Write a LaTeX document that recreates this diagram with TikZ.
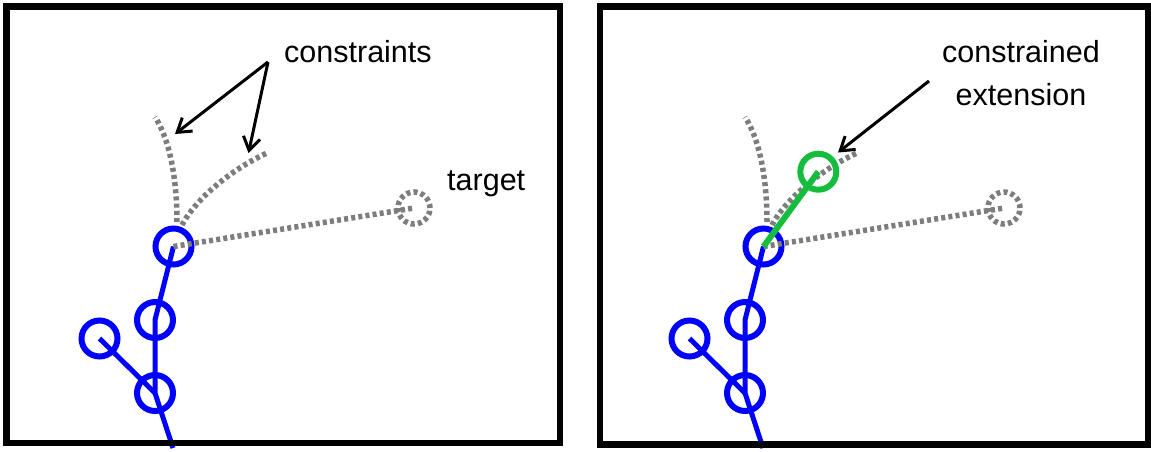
\documentclass[tikz,border=0pt]{standalone}
\usepackage{fontspec}
\setmainfont{Liberation Sans}
\usetikzlibrary{arrows.meta}
\definecolor{jointblue}{RGB}{0,0,255}
\definecolor{extgreen}{RGB}{20,190,60}
\definecolor{guidegray}{RGB}{125,125,125}
\tikzset{
  joint/.style={circle, draw=jointblue, line width=6pt, minimum size=36pt, inner sep=0pt, outer sep=0pt},
  link/.style={draw=jointblue, line width=5pt},
  guide/.style={draw=guidegray, line width=5.5pt, dash pattern=on 4pt off 3.2pt},
  goal/.style={circle, guide, minimum size=32pt, inner sep=0pt, outer sep=0pt},
  panel/.style={draw=black, line width=6.5pt},
  caption/.style={font=\fontsize{30.5}{36}\selectfont, inner sep=0pt},
  pointer/.style={draw=black, line width=3pt, -{Straight Barb[length=13pt,width=17pt]}},
  extjoint/.style={circle, draw=extgreen, line width=6pt, minimum size=36pt, inner sep=0pt, outer sep=0pt},
  extlink/.style={draw=extgreen, line width=6pt},
}
% The articulated arm with its constraint curves and target; #1 is a name prefix
\newcommand\armscene[1]{%
  \coordinate (#1base) at (173,448);
  \coordinate (#1c1s) at (177,222);
  \coordinate (#1c1e) at (155,117);
  \coordinate (#1c2s) at (182,225);
  \coordinate (#1c2e) at (267,153);
  \node[joint] (#1j3) at (155,393) {};
  \node[joint] (#1j2) at (155,320) {};
  \node[joint] (#1j1) at (173.5,246.5) {};
  \node[joint] (#1jb) at (99.5,338.5) {};
  \node[goal] (#1goal) at (414,208) {};
  \draw[link] (#1base) -- (#1j3.center) -- (#1j2.center) -- (#1j1.center);
  \draw[link] (#1j3.center) -- (#1jb.center);
  \draw[guide] (#1c1s) .. controls (177,180) and (170,140) .. (#1c1e);
  \draw[guide] (#1c2s) .. controls (195,200) and (230,170) .. (#1c2e);
  \draw[guide] (#1j1.center) -- (#1goal.center);
}
\begin{document}
\begin{tikzpicture}[x=1pt, y=-1pt]
  \useasboundingbox (0,0) rectangle (1151,451);

  % left panel
  \armscene{L}
  \coordinate (Lsrc) at (268,62);
  \coordinate (Ltip1) at (175,134);
  \coordinate (Ltip2) at (248.5,153);
  \draw[pointer] (Lsrc) -- (Ltip1);
  \draw[pointer] (Lsrc) -- (Ltip2);
  \node[caption, anchor=base west] (Lcons) at (284,62) {constraints};
  \node[caption, anchor=base west] (Ltarget) at (447,190) {target};
  \draw[panel] (6.5,6.5) rectangle (560,443);

  % right panel
  \begin{scope}[xshift=590pt]
    \armscene{R}
    \node[extjoint] (Rext) at (228.3,171.7) {};
    \draw[extlink] (Rj1.center) -- (Rext.center);
    \coordinate (Rsrc) at (339,81);
    \coordinate (Rtip) at (248,152.5);
    \draw[pointer] (Rsrc) -- (Rtip);
    \node[caption, anchor=base] (Rlab1) at (431,62) {constrained};
    \node[caption, anchor=base] (Rlab2) at (431,105) {extension};
  \end{scope}
  \draw[panel] (600,6.5) rectangle (1148.5,444.5);
\end{tikzpicture}
\end{document}
